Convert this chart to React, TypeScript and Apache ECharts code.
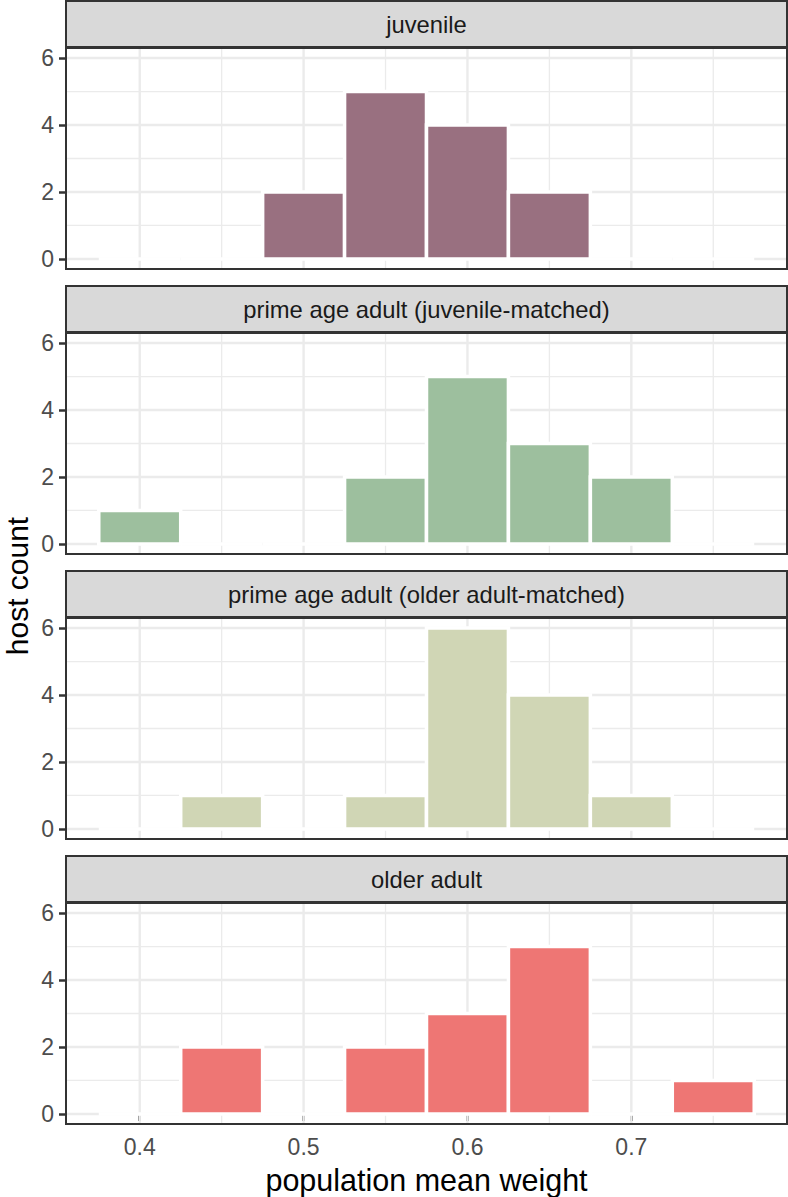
import React, { useEffect, useRef } from "react";
import * as echarts from "echarts";

// ---- data ----
const facetLabels = [
  "juvenile",
  "prime age adult (juvenile-matched)",
  "prime age adult (older adult-matched)",
  "older adult",
];
const binCenters = [0.4, 0.45, 0.5, 0.55, 0.6, 0.65, 0.7, 0.75];
const binWidth = 0.05;
const juvenileCounts = [0, 0, 2, 5, 4, 2, 0, 0];
const primeJuvMatchedCounts = [1, 0, 0, 2, 5, 3, 2, 0];
const primeOlderMatchedCounts = [0, 1, 0, 1, 6, 4, 1, 0];
const olderAdultCounts = [0, 2, 0, 2, 3, 5, 0, 1];
const facetCounts = [juvenileCounts, primeJuvMatchedCounts, primeOlderMatchedCounts, olderAdultCounts];
const facetColors = ["#997080", "#9dbf9e", "#d0d6b5", "#ee7674"];
const xTicks = [0.4, 0.5, 0.6, 0.7];
const xMinorTicks = [0.45, 0.55, 0.65, 0.75];
const yTicks = [0, 2, 4, 6];
const yMinorTicks = [1, 3, 5];
const xRange = [0.355, 0.795];
const yRange = [-0.3, 6.3];
const xTitle = "population mean weight";
const yTitle = "host count";

// ---- layout ----
const W = 788;
const H = 1197;
const PANEL_LEFT = 66;
const PANEL_WIDTH = 721;
const PANEL_HEIGHT = 221;
const PANEL_TOPS = [48, 333, 618, 903];
const STRIP_H = 46;
const FONT = "'Liberation Sans', Arial, Helvetica, sans-serif";

export default function App() {
  const ref = useRef<HTMLDivElement>(null);
  useEffect(() => {
    document.body.style.margin = "0";
    if (!ref.current) return;
    const chart = echarts.init(ref.current, null, { renderer: "svg" });

    const grids: any[] = [];
    const xAxes: any[] = [];
    const yAxes: any[] = [];
    const series: any[] = [];
    const graphics: any[] = [];

    facetLabels.forEach((label, i) => {
      const top = PANEL_TOPS[i];
      const isBottom = i === facetLabels.length - 1;
      grids.push({ left: PANEL_LEFT, top, width: PANEL_WIDTH, height: PANEL_HEIGHT, show: false });
      xAxes.push({
        type: "value",
        gridIndex: i,
        min: xRange[0],
        max: xRange[1],
        axisLine: { show: false },
        splitLine: { show: false },
        axisTick: {
          show: isBottom,
          customValues: xTicks,
          length: 7,
          lineStyle: { color: "#333333", width: 2.5 },
        },
        axisLabel: {
          show: isBottom,
          customValues: xTicks,
          formatter: (v: number) => v.toFixed(1),
          color: "#4d4d4d",
          fontSize: 23,
          fontFamily: FONT,
          margin: 11,
        },
      });
      yAxes.push({
        type: "value",
        gridIndex: i,
        min: yRange[0],
        max: yRange[1],
        axisLine: { show: false },
        splitLine: { show: false },
        axisTick: {
          show: true,
          customValues: yTicks,
          length: 7,
          lineStyle: { color: "#333333", width: 2.5 },
        },
        axisLabel: {
          show: true,
          customValues: yTicks,
          color: "#4d4d4d",
          fontSize: 23,
          fontFamily: FONT,
          margin: 12,
        },
      });

      const vGrid = (vals: number[], width: number) => ({
        type: "custom",
        xAxisIndex: i,
        yAxisIndex: i,
        z: 1,
        silent: true,
        data: vals.map((v) => [v]),
        renderItem: (_p: any, api: any) => {
          const v = api.value(0);
          const a = api.coord([v, yRange[0]]);
          const b = api.coord([v, yRange[1]]);
          return {
            type: "line",
            shape: { x1: a[0], y1: a[1], x2: b[0], y2: b[1] },
            style: { stroke: "#ebebeb", lineWidth: width },
          };
        },
      });
      const hGrid = (vals: number[], width: number) => ({
        type: "custom",
        xAxisIndex: i,
        yAxisIndex: i,
        z: 1,
        silent: true,
        data: vals.map((v) => [xRange[0], v]),
        renderItem: (_p: any, api: any) => {
          const v = api.value(1);
          const a = api.coord([xRange[0], v]);
          const b = api.coord([xRange[1], v]);
          return {
            type: "line",
            shape: { x1: a[0], y1: a[1], x2: b[0], y2: b[1] },
            style: { stroke: "#ebebeb", lineWidth: width },
          };
        },
      });
      series.push(vGrid(xMinorTicks, 1.3));
      series.push(hGrid(yMinorTicks, 1.3));
      series.push(vGrid(xTicks, 2.4));
      series.push(hGrid(yTicks, 2.4));

      const color = facetColors[i];
      series.push({
        type: "custom",
        name: label,
        xAxisIndex: i,
        yAxisIndex: i,
        z: 3,
        data: binCenters.map((c, j) => [c, facetCounts[i][j]]),
        renderItem: (_p: any, api: any) => {
          const c = api.value(0);
          const n = api.value(1);
          const p0 = api.coord([c - binWidth / 2, n]);
          const p1 = api.coord([c + binWidth / 2, 0]);
          if (n === 0) {
            return {
              type: "line",
              shape: { x1: p0[0], y1: p1[1], x2: p1[0], y2: p1[1] },
              style: { stroke: "#ffffff", lineWidth: 3.5 },
            };
          }
          return {
            type: "rect",
            shape: { x: p0[0], y: p0[1], width: p1[0] - p0[0], height: p1[1] - p0[1] },
            style: { fill: color, stroke: "#ffffff", lineWidth: 3.5 },
          };
        },
      });

      // panel border
      graphics.push({
        type: "rect",
        z: 100,
        silent: true,
        shape: { x: PANEL_LEFT, y: top, width: PANEL_WIDTH, height: PANEL_HEIGHT },
        style: { fill: "none", stroke: "#333333", lineWidth: 2 },
      });
      // strip
      graphics.push({
        type: "rect",
        z: 100,
        silent: true,
        shape: { x: PANEL_LEFT, y: top - STRIP_H - 1, width: PANEL_WIDTH, height: STRIP_H },
        style: { fill: "#d9d9d9", stroke: "#333333", lineWidth: 2 },
      });
      graphics.push({
        type: "text",
        z: 101,
        silent: true,
        x: PANEL_LEFT + PANEL_WIDTH / 2,
        y: top - 1 - STRIP_H / 2,
        style: {
          text: label,
          fill: "#1a1a1a",
          fontSize: 23.8,
          fontFamily: FONT,
          textAlign: "center",
          textVerticalAlign: "middle",
        },
      });
    });

    graphics.push({
      type: "text",
      silent: true,
      x: PANEL_LEFT + PANEL_WIDTH / 2,
      y: 1180,
      style: {
        text: xTitle,
        fill: "#000000",
        fontSize: 30.5,
        fontFamily: FONT,
        textAlign: "center",
        textVerticalAlign: "middle",
      },
    });
    graphics.push({
      type: "text",
      silent: true,
      x: 17,
      y: 586,
      rotation: Math.PI / 2,
      style: {
        text: yTitle,
        fill: "#000000",
        fontSize: 30,
        fontFamily: FONT,
        textAlign: "center",
        textVerticalAlign: "middle",
      },
    });

    chart.setOption({
      animation: false,
      backgroundColor: "#ffffff",
      grid: grids,
      xAxis: xAxes,
      yAxis: yAxes,
      series,
      graphic: graphics,
    });
    return () => chart.dispose();
  }, []);
  return <div ref={ref} style={{ width: W, height: H }} />;
}
